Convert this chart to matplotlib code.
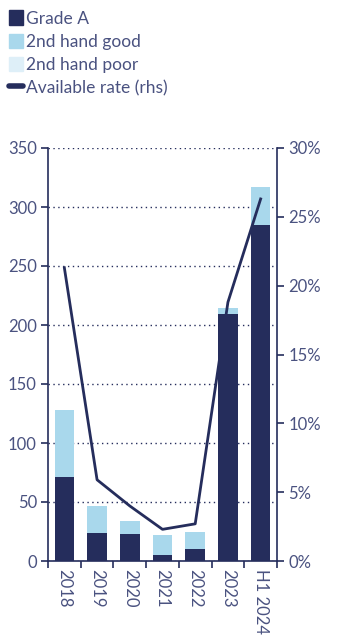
import matplotlib.pyplot as plt
import numpy as np
from matplotlib.lines import Line2D
from matplotlib.patches import Patch

# Données
annees = ["2018", "2019", "2020", "2021", "2022", "2023", "H1 2024"]
grade_a = [71, 24, 23, 5, 10, 209, 285]
second_good = [57, 23, 11, 17, 15, 5, 32]
second_poor = [0, 0, 0, 0, 0, 0, 0]
taux_dispo = [21.3, 5.9, 4.0, 2.3, 2.7, 18.8, 26.3]

navy = "#252d5c"
light = "#a9d8ec"
pale = "#deeff8"
txt = "#4a5280"

plt.rcParams["font.family"] = ["Lato", "DejaVu Sans"]

fig = plt.figure(figsize=(3.39, 6.37), dpi=100)
ax = fig.add_axes([48 / 339, 1 - 561 / 637, 229 / 339, 413 / 637])
x = np.arange(len(annees))

ax.bar(x, grade_a, width=0.6, color=navy, zorder=3)
ax.bar(x, second_good, width=0.6, bottom=grade_a, color=light, zorder=3)
bas = np.array(grade_a) + np.array(second_good)
ax.bar(x, second_poor, width=0.6, bottom=bas, color=pale, zorder=3)

ax.set_xlim(-0.5, 6.5)
ax.set_ylim(0, 350)
ax.set_yticks(range(0, 351, 50))
ax.yaxis.grid(True, linestyle=(0, (1, 2.5)), color=navy, linewidth=1.0, zorder=0)
ax.set_xticks(np.arange(-0.5, 7, 1))
ax.set_xticklabels([])
ax.set_xticks(x, minor=True)
ax.set_xticklabels(annees, minor=True, rotation=-90, fontsize=12, color=txt)
ax.tick_params(axis="x", which="minor", length=0, pad=6)
ax.tick_params(axis="x", which="major", length=5, color=navy, width=1.2)
ax.tick_params(axis="y", length=5, color=navy, width=1.2, labelsize=12, labelcolor=txt, pad=3)
for s in ["left", "right", "bottom"]:
    ax.spines[s].set_color(navy)
    ax.spines[s].set_linewidth(1.2)
ax.spines["top"].set_visible(False)

ax2 = ax.twinx()
ax2.plot(x, taux_dispo, color=navy, linewidth=2.0, zorder=4)
ax2.set_ylim(0, 30)
ax2.set_yticks(range(0, 31, 5))
ax2.set_yticklabels([f"{v}%" for v in range(0, 31, 5)])
ax2.tick_params(axis="y", length=5, color=navy, width=1.2, labelsize=12, labelcolor=txt, pad=3)
for s in ["left", "right", "bottom", "top"]:
    ax2.spines[s].set_visible(False)

handles = [
    Patch(color=navy, label="Grade A"),
    Patch(color=light, label="2nd hand good"),
    Patch(color=pale, label="2nd hand poor"),
    Line2D([], [], color=navy, linewidth=4, solid_capstyle="round", label="Available rate (rhs)"),
]
fig.legend(handles=handles, loc="upper left", bbox_to_anchor=(-0.005, 1.0), frameon=False,
           fontsize=12.5, labelcolor=txt, handlelength=0.8, handleheight=0.9,
           handletextpad=0.2, labelspacing=0.4, borderaxespad=0.2)

fig.savefig("out.png", dpi=100)
